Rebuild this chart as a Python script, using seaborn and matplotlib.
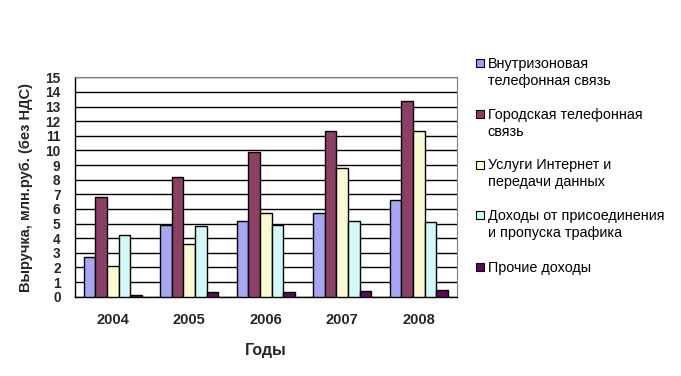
import pandas as pd
import numpy as np
import matplotlib.pyplot as plt
import seaborn as sns
from matplotlib.patches import Rectangle

years = ["2004", "2005", "2006", "2007", "2008"]
series = ["Внутризоновая\nтелефонная связь",
          "Городская телефонная\nсвязь",
          "Услуги Интернет и\nпередачи данных",
          "Доходы от присоединения\nи пропуска трафика",
          "Прочие доходы"]
intrazone = [2.7, 4.9, 5.15, 5.7, 6.6]
city = [6.8, 8.2, 9.9, 11.3, 13.4]
internet = [2.1, 3.6, 5.7, 8.8, 11.3]
interconnect = [4.2, 4.8, 4.9, 5.2, 5.1]
other = [0.15, 0.3, 0.3, 0.36, 0.43]
colors = ["#9999FF", "#993366", "#FFFFCC", "#CCFFFF", "#660066"]

values = [intrazone, city, internet, interconnect, other]
rows = []
for s, vals in zip(series, values):
    for y, v in zip(years, vals):
        rows.append({"year": y, "series": s, "value": v})
df = pd.DataFrame(rows)

sns.set_style("white")
plt.rcParams['font.family'] = ['Liberation Sans', 'DejaVu Sans']

W, H = 681, 376
fig = plt.figure(figsize=(W/100, H/100), dpi=100)
ax = fig.add_axes([74.5/W, 1-296.7/H, (457-74.5)/W, (296.7-77.3)/H])

sns.barplot(data=df, x="year", y="value", hue="series", palette=colors,
            width=0.76, gap=0, edgecolor="black", linewidth=1, ax=ax, zorder=3)

ax.set_ylim(0, 15)
ax.set_xlim(-0.5, 4.5)
ax.set_yticks(range(0, 16))
ax.yaxis.grid(True, color="black", linewidth=1, zorder=0)
ax.set_axisbelow(True)
for sp in ["top", "right"]:
    ax.spines[sp].set_color("#808080")
for sp in ["left", "bottom"]:
    ax.spines[sp].set_color("black")
    ax.spines[sp].set_linewidth(1)

ax.set_xticks(range(5))
ax.set_xticklabels(years, fontweight="bold", fontsize=10.5)
ax.set_xticks(np.arange(-0.5, 5, 1), minor=True)
ax.tick_params(axis="x", which="major", length=0, pad=12)
ax.tick_params(axis="x", which="minor", length=4, width=1, color="black", direction="out")
ax.tick_params(axis="y", length=4, width=1, color="black", direction="out", pad=6, labelsize=9.8)
for t in ax.get_yticklabels():
    t.set_fontweight("bold")

ax.set_xlabel("Годы", fontweight="bold", fontsize=11.5, labelpad=11)
ax.set_ylabel("Выручка, млн.руб. (без НДС)", fontweight="bold", fontsize=10.5, labelpad=9)

# legend drawn by hand so the square sits on the first line
ax.legend_.remove()
base = [68.3, 119.0, 169.5, 220.3, 272.0]
for i, (lab, c) in enumerate(zip(series, colors)):
    y0 = base[i]
    fig.add_artist(Rectangle((475.7/W, 1-(y0-1)/H), 8/W, 8/H, transform=fig.transFigure,
                             facecolor=c, edgecolor="black", linewidth=0.8))
    for j, line in enumerate(lab.split("\n")):
        fig.text(487.7/W, 1-(y0+16.7*j)/H, line, fontsize=10.4, va="baseline", ha="left",
                 color="black")

fig.savefig("out.png", dpi=100)
